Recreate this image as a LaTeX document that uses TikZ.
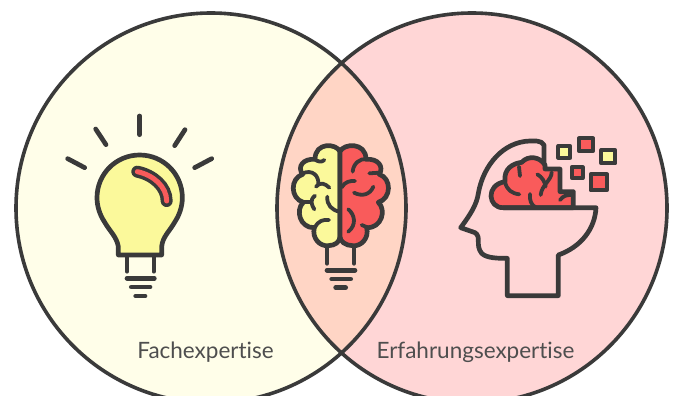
\documentclass[tikz,border=0pt]{standalone}
\usepackage{fontspec}
\setmainfont{Lato}[Ligatures=NoCommon]
\definecolor{ink}{HTML}{3A3A3A}
\definecolor{paleyellow}{HTML}{FFFEE9}
\definecolor{palered}{HTML}{FFD6D6}
\definecolor{overlap}{HTML}{FFD5C5}
\definecolor{bulbyellow}{HTML}{FBF99B}
\definecolor{brainred}{HTML}{F95B5B}
\tikzset{
	icon/.style={draw=ink, line width=4.7pt, line cap=round, line join=round},
	thin icon/.style={draw=ink, line width=3.8pt, line cap=round, line join=round},
	caption/.style={text=ink!90, font=\fontsize{22.5}{26}\selectfont, inner sep=0pt}
}
\begin{document}
\begin{tikzpicture}[x=1pt, y=-1pt]
	\useasboundingbox (0,0) rectangle (675,396);
	\fill[white] (0,0) rectangle (675,396);
	\clip (0,0) rectangle (675,396);

	% venn circles
	\fill[paleyellow] (211,208) circle [radius=195];
	\fill[palered] (472,208) circle [radius=195];
	\begin{scope}
		\clip (211,208) circle [radius=195];
		\fill[overlap] (472,208) circle [radius=195];
	\end{scope}
	\draw[ink, line width=3.6pt] (211,208) circle [radius=195];
	\draw[ink, line width=3.6pt] (472,208) circle [radius=195];

	% light bulb
	\begin{scope}[shift={(50,100)}, scale=1/3]
		\draw[icon, fill=bulbyellow] (205,465) -- (205,440) .. controls (200,410) and (180,395) .. (163,365)
			.. controls (150,345) and (141,320) .. (141,293)
			.. controls (141,222) and (198,165) .. (269,165)
			.. controls (340,165) and (397,222) .. (397,293)
			.. controls (397,320) and (388,345) .. (375,365)
			.. controls (358,395) and (338,410) .. (335,440) -- (335,465) -- cycle;
		\draw[draw=ink, line width=12pt, line cap=round] (262,215) .. controls (310,225) and (350,260) .. (350,303);
		\draw[draw=brainred, line width=5pt, line cap=round] (262,215) .. controls (310,225) and (350,260) .. (350,303);
		\foreach \xa/\ya/\xb/\yb in {269/48/269/104, 137/87/168/134, 405/89/374/137, 53/176/104/203, 485/176/434/203}
			\draw[icon] (\xa,\ya) -- (\xb,\yb);
		\draw[thin icon] (231,470) -- (231,515);
		\draw[thin icon] (311,470) -- (311,515);
		\draw[icon] (231,535) -- (313,535);
		\draw[icon] (244,561) -- (300,561);
		\draw[icon] (257,588) -- (285,588);
	\end{scope}

	% brain bulb
	\begin{scope}[shift={(280,130)}, scale=1/3]
		\draw[icon, fill=bulbyellow] (180,65) .. controls (170,40) and (105,35) .. (105,88)
			.. controls (70,85) and (50,110) .. (68,133)
			.. controls (30,145) and (30,205) .. (70,217)
			.. controls (45,240) and (60,295) .. (103,293)
			.. controls (95,325) and (120,350) .. (145,347)
			.. controls (165,347) and (180,335) .. (180,320) -- cycle;
		\draw[icon, fill=brainred] (180,65) .. controls (190,40) and (258,35) .. (258,88)
			.. controls (295,85) and (312,110) .. (298,133)
			.. controls (335,145) and (335,205) .. (295,217)
			.. controls (320,240) and (305,295) .. (260,293)
			.. controls (268,325) and (243,350) .. (218,347)
			.. controls (198,347) and (180,335) .. (180,320) -- cycle;
		\draw[thin icon] (133,90) .. controls (125,98) and (112,95) .. (105,88);
		\draw[thin icon] (68,130) .. controls (95,118) and (118,135) .. (115,165);
		\draw[thin icon] (108,170) .. controls (120,155) and (135,160) .. (148,173);
		\draw[thin icon] (105,197) .. controls (88,210) and (95,225) .. (103,238);
		\draw[thin icon] (70,215) -- (92,215);
		\draw[thin icon] (142,200) .. controls (140,225) and (155,240) .. (178,245);
		\draw[thin icon] (105,292) .. controls (115,272) and (130,268) .. (147,270);
		\draw[thin icon] (218,125) .. controls (220,100) and (240,85) .. (260,87);
		\draw[thin icon] (268,130) -- (298,128);
		\draw[thin icon] (185,172) .. controls (195,155) and (210,152) .. (225,153);
		\draw[thin icon] (222,188) .. controls (245,200) and (270,195) .. (280,170);
		\draw[thin icon] (205,238) .. controls (225,255) and (230,285) .. (205,305);
		\draw[thin icon] (262,292) -- (245,285);
		\draw[icon] (141,355) -- (141,400);
		\draw[icon] (222,355) -- (222,400);
		\draw[icon] (141,421) -- (225,421);
		\draw[icon] (155,447) -- (212,447);
		\draw[icon] (167,473) -- (197,473);
	\end{scope}

	% head
	\begin{scope}[shift={(450,125)}, scale=1/3]
		\draw[icon, fill=brainred] (160,248) .. controls (115,250) and (105,180) .. (165,170)
			.. controls (160,130) and (190,115) .. (215,112)
			.. controls (235,90) and (270,95) .. (285,120) -- (285,132) -- (330,132) -- (330,200) -- (370,200) -- (370,248) -- cycle;
		\draw[icon] (282,115) -- (282,60) .. controls (275,45) and (250,48) .. (240,48)
			.. controls (160,50) and (100,120) .. (85,205)
			.. controls (80,240) and (60,270) .. (32,308)
			-- (75,323) .. controls (95,335) and (75,360) .. (95,385)
			.. controls (110,400) and (145,400) .. (172,400)
			-- (172,512) -- (325,512) -- (325,390)
			.. controls (395,365) and (435,310) .. (438,248) -- (160,248);
		\draw[thin icon] (165,170) .. controls (170,195) and (185,205) .. (208,208);
		\draw[thin icon] (207,125) -- (210,153);
		\draw[thin icon] (240,207) .. controls (238,225) and (243,240) .. (258,248);
		\draw[thin icon] (262,148) .. controls (275,155) and (285,170) .. (287,185);
		\draw[thin icon] (305,142) .. controls (305,165) and (275,180) .. (272,210);
		\draw[thin icon] (330,225) .. controls (340,212) and (350,210) .. (362,210);
		\draw[thin icon, fill=bulbyellow] (325,63) rectangle (361,98);
		\draw[thin icon, fill=brainred] (387,40) rectangle (429,79);
		\draw[thin icon, fill=bulbyellow] (454,75) rectangle (496,115);
		\draw[thin icon, fill=brainred] (365,127) rectangle (398,159);
		\draw[thin icon, fill=brainred] (422,148) rectangle (471,196);
	\end{scope}

	\node (fach) at (205.5,352) [caption] {Fachexpertise};
	\node (erfahrung) at (475.5,352) [caption] {Erfahrungsexpertise};
\end{tikzpicture}
\end{document}
